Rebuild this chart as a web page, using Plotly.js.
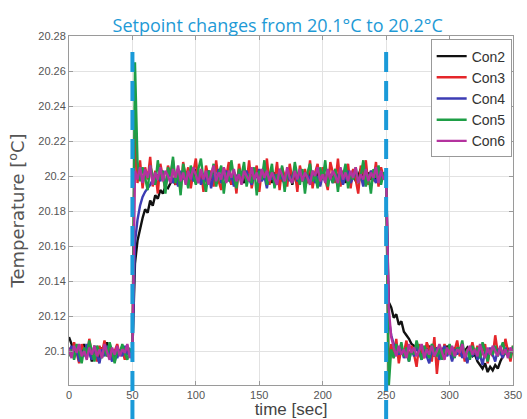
<!DOCTYPE html>
<html>
<head>
<meta charset="utf-8">
<script src="https://cdn.plot.ly/plotly-3.0.1.min.js"></script>
<style>html,body{margin:0;padding:0;background:#fff;}#chart{width:527px;height:419px;}</style>
</head>
<body>
<div id="chart"></div>
<script>
const time = [
0,2,4,6,8,10,12,14,16,18,
20,22,24,26,28,30,32,34,36,38,
40,42,44,46,48,50,52,54,56,58,
60,62,64,66,68,70,72,74,76,78,
80,82,84,86,88,90,92,94,96,98,
100,102,104,106,108,110,112,114,116,118,
120,122,124,126,128,130,132,134,136,138,
140,142,144,146,148,150,152,154,156,158,
160,162,164,166,168,170,172,174,176,178,
180,182,184,186,188,190,192,194,196,198,
200,202,204,206,208,210,212,214,216,218,
220,222,224,226,228,230,232,234,236,238,
240,242,244,246,248,250,252,254,256,258,
260,262,264,266,268,270,272,274,276,278,
280,282,284,286,288,290,292,294,296,298,
300,302,304,306,308,310,312,314,316,318,
320,322,324,326,328,330,332,334,336,338,
340,342,344,346,348,350];

const con2 = [
20.108,20.104,20.097,20.102,20.095,20.099,20.104,20.098,20.101,20.094,
20.103,20.099,20.096,20.102,20.098,20.105,20.097,20.100,20.094,20.101,
20.099,20.103,20.096,20.100,20.098,20.101,20.150,20.163,20.170,20.176,
20.181,20.179,20.186,20.183,20.189,20.187,20.192,20.190,20.194,20.193,
20.196,20.198,20.195,20.201,20.197,20.203,20.199,20.196,20.202,20.198,
20.204,20.197,20.201,20.195,20.200,20.203,20.198,20.202,20.196,20.201,
20.199,20.204,20.197,20.200,20.195,20.202,20.198,20.203,20.199,20.196,
20.201,20.197,20.204,20.199,20.202,20.196,20.200,20.203,20.198,20.201,
20.196,20.202,20.199,20.204,20.197,20.200,20.198,20.203,20.195,20.201,
20.199,20.203,20.197,20.201,20.196,20.204,20.200,20.198,20.202,20.197,
20.203,20.199,20.196,20.201,20.198,20.204,20.197,20.200,20.202,20.196,
20.201,20.198,20.203,20.197,20.200,20.204,20.199,20.196,20.202,20.198,
20.201,20.197,20.203,20.199,20.200,20.200,20.128,20.125,20.119,20.121,
20.115,20.117,20.111,20.109,20.107,20.104,20.103,20.101,20.102,20.099,
20.101,20.098,20.103,20.100,20.097,20.102,20.099,20.101,20.098,20.103,
20.100,20.097,20.102,20.099,20.101,20.098,20.100,20.102,20.099,20.097,
20.098,20.094,20.092,20.090,20.093,20.088,20.091,20.089,20.092,20.090,
20.094,20.097,20.099,20.101,20.098,20.100];

const con3 = [
20.102,20.097,20.105,20.099,20.093,20.104,20.100,20.096,20.107,20.098,
20.101,20.094,20.103,20.099,20.106,20.097,20.102,20.095,20.100,20.104,
20.098,20.101,20.095,20.103,20.099,20.102,20.232,20.196,20.209,20.193,
20.205,20.198,20.211,20.194,20.203,20.190,20.207,20.199,20.192,20.206,
20.201,20.209,20.195,20.203,20.191,20.208,20.199,20.205,20.193,20.202,
20.210,20.196,20.204,20.191,20.206,20.199,20.203,20.194,20.209,20.197,
20.192,20.205,20.200,20.208,20.195,20.202,20.190,20.207,20.198,20.204,
20.196,20.209,20.193,20.201,20.206,20.191,20.204,20.199,20.210,20.195,
20.203,20.197,20.208,20.192,20.205,20.200,20.194,20.207,20.198,20.203,
20.191,20.206,20.199,20.204,20.196,20.209,20.193,20.202,20.207,20.195,
20.205,20.198,20.192,20.208,20.201,20.196,20.210,20.194,20.203,20.199,
20.207,20.193,20.204,20.198,20.190,20.206,20.201,20.209,20.195,20.203,
20.197,20.208,20.194,20.205,20.199,20.203,20.088,20.104,20.096,20.107,
20.093,20.102,20.099,20.106,20.095,20.103,20.098,20.091,20.104,20.100,
20.096,20.105,20.101,20.094,20.108,20.087,20.102,20.097,20.104,20.099,
20.103,20.095,20.100,20.106,20.097,20.102,20.094,20.101,20.099,20.105,
20.098,20.103,20.096,20.100,20.104,20.093,20.101,20.097,20.109,20.099,
20.102,20.096,20.107,20.100,20.094,20.103];

const con4 = [
20.099,20.103,20.096,20.101,20.094,20.100,20.097,20.104,20.099,20.095,
20.102,20.098,20.093,20.101,20.097,20.103,20.099,20.094,20.100,20.096,
20.101,20.097,20.103,20.098,20.100,20.099,20.162,20.175,20.183,20.188,
20.191,20.193,20.195,20.198,20.196,20.201,20.197,20.203,20.195,20.199,
20.202,20.196,20.200,20.194,20.203,20.198,20.201,20.195,20.204,20.197,
20.199,20.202,20.195,20.200,20.197,20.203,20.193,20.201,20.198,20.204,
20.196,20.200,20.203,20.197,20.201,20.194,20.199,20.202,20.196,20.201,
20.203,20.198,20.195,20.201,20.199,20.204,20.197,20.200,20.193,20.202,
20.198,20.201,20.196,20.203,20.199,20.195,20.202,20.197,20.200,20.204,
20.197,20.199,20.202,20.195,20.201,20.198,20.203,20.196,20.200,20.194,
20.201,20.197,20.203,20.199,20.196,20.202,20.198,20.201,20.195,20.200,
20.203,20.196,20.199,20.202,20.197,20.200,20.194,20.201,20.198,20.203,
20.199,20.196,20.202,20.198,20.201,20.200,20.119,20.109,20.104,20.101,
20.098,20.102,20.096,20.100,20.094,20.101,20.097,20.103,20.099,20.095,
20.101,20.097,20.093,20.100,20.098,20.102,20.095,20.099,20.103,20.097,
20.100,20.094,20.101,20.098,20.102,20.096,20.099,20.093,20.100,20.097,
20.101,20.095,20.098,20.092,20.100,20.097,20.102,20.098,20.094,20.101,
20.099,20.096,20.102,20.098,20.101,20.100];

const con5 = [
20.097,20.101,20.095,20.104,20.099,20.093,20.102,20.098,20.106,20.100,
20.094,20.103,20.099,20.096,20.102,20.097,20.105,20.100,20.093,20.101,
20.098,20.104,20.099,20.095,20.101,20.100,20.265,20.208,20.197,20.205,
20.199,20.192,20.206,20.201,20.195,20.209,20.198,20.203,20.190,20.205,
20.200,20.211,20.196,20.203,20.189,20.207,20.199,20.193,20.206,20.201,
20.195,20.204,20.210,20.198,20.191,20.203,20.199,20.207,20.194,20.201,
20.206,20.190,20.202,20.197,20.209,20.199,20.193,20.204,20.200,20.208,
20.194,20.201,20.196,20.205,20.189,20.203,20.198,20.209,20.195,20.200,
20.207,20.193,20.201,20.198,20.206,20.191,20.203,20.199,20.196,20.208,
20.200,20.195,20.204,20.190,20.202,20.207,20.197,20.201,20.193,20.205,
20.198,20.209,20.194,20.201,20.196,20.204,20.191,20.203,20.200,20.207,
20.193,20.202,20.198,20.205,20.196,20.200,20.209,20.194,20.201,20.190,
20.204,20.199,20.206,20.195,20.202,20.200,20.079,20.101,20.096,20.104,
20.099,20.105,20.097,20.102,20.094,20.101,20.098,20.106,20.100,20.095,
20.103,20.099,20.096,20.104,20.100,20.097,20.102,20.095,20.101,20.098,
20.104,20.099,20.096,20.102,20.100,20.106,20.097,20.101,20.095,20.103,
20.099,20.102,20.096,20.105,20.100,20.094,20.101,20.098,20.103,20.097,
20.101,20.105,20.098,20.100,20.096,20.103];

const con6 = [
20.101,20.096,20.103,20.099,20.104,20.097,20.100,20.095,20.102,20.098,
20.103,20.097,20.101,20.096,20.104,20.099,20.095,20.102,20.098,20.103,
20.097,20.101,20.099,20.104,20.096,20.100,20.203,20.198,20.205,20.196,
20.204,20.199,20.206,20.195,20.202,20.198,20.205,20.197,20.203,20.200,
20.196,20.204,20.199,20.206,20.197,20.202,20.195,20.203,20.198,20.205,
20.200,20.196,20.204,20.198,20.203,20.195,20.201,20.206,20.197,20.202,
20.198,20.205,20.196,20.203,20.199,20.204,20.197,20.201,20.195,20.203,
20.200,20.197,20.205,20.198,20.202,20.196,20.204,20.199,20.203,20.197,
20.202,20.198,20.195,20.204,20.200,20.197,20.205,20.199,20.196,20.203,
20.198,20.204,20.197,20.202,20.199,20.195,20.203,20.200,20.205,20.197,
20.201,20.196,20.204,20.198,20.203,20.200,20.196,20.205,20.198,20.202,
20.197,20.203,20.199,20.205,20.196,20.201,20.198,20.204,20.197,20.202,
20.199,20.205,20.196,20.203,20.198,20.200,20.125,20.108,20.102,20.097,
20.103,20.098,20.101,20.096,20.104,20.099,20.102,20.097,20.100,20.104,
20.096,20.101,20.098,20.103,20.097,20.100,20.104,20.099,20.095,20.102,
20.098,20.103,20.097,20.101,20.099,20.104,20.096,20.100,20.103,20.098,
20.101,20.097,20.104,20.099,20.096,20.102,20.098,20.103,20.100,20.097,
20.103,20.098,20.101,20.096,20.102,20.099];

const seriesNames = ["Con2","Con3","Con4","Con5","Con6"];
const seriesColors = ["#111111","#e5262a","#3c3cb4","#1e9e46","#b4329e"];
const seriesValues = [con2, con3, con4, con5, con6];

const xTicks = [0,50,100,150,200,250,300,350];
const xTickText = ["0","50","100","150","200","250","300","350"];
const yTicks = [20.1,20.12,20.14,20.16,20.18,20.2,20.22,20.24,20.26,20.28];
const yTickText = ["20.1","20.12","20.14","20.16","20.18","20.2","20.22","20.24","20.26","20.28"];
const setpointTimes = [50, 250];

const traces = seriesValues.map((vals, i) => ({
  x: time, y: vals, type: "scatter", mode: "lines", name: seriesNames[i],
  line: {color: seriesColors[i], width: 2.4}
}));

const axisFont = {family: "Liberation Sans, Arial, sans-serif", size: 11, color: "#555"};
const layout = {
  width: 527, height: 419,
  margin: {l: 69, r: 14, t: 36, b: 34, pad: 0},
  paper_bgcolor: "#fff", plot_bgcolor: "#fff",
  title: {text: "Setpoint changes from 20.1°C to 20.2°C", x: 0.47, xref: "paper", xanchor: "center",
          y: 1, yref: "paper", yanchor: "bottom", pad: {b: 4},
          font: {family: "Open Sans, Noto Sans, sans-serif", size: 18, color: "#1e9ad6"}},
  showlegend: true,
  legend: {x: 0.997, xanchor: "right", y: 0.99, yanchor: "top", bgcolor: "#fff",
           bordercolor: "#999", borderwidth: 1, tracegroupgap: 0,
           font: {family: "Liberation Sans, Arial, sans-serif", size: 14, color: "#333"}},
  xaxis: {range: [0, 350], tickmode: "array", tickvals: xTicks, ticktext: xTickText,
          showgrid: true, gridcolor: "#e2e2e2", gridwidth: 1, zeroline: false,
          showline: true, linecolor: "#9a9a9a", linewidth: 1, mirror: "ticks",
          ticks: "inside", ticklen: 4, tickcolor: "#9a9a9a", tickfont: axisFont,
          title: {text: "time [sec]", standoff: 4,
                  font: {family: "Liberation Sans, Arial, sans-serif", size: 17, color: "#444"}}},
  yaxis: {range: [20.0806, 20.28], tickmode: "array", tickvals: yTicks, ticktext: yTickText,
          showgrid: true, gridcolor: "#e2e2e2", gridwidth: 1, zeroline: false,
          showline: true, linecolor: "#9a9a9a", linewidth: 1, mirror: "ticks",
          ticks: "inside", ticklen: 4, tickcolor: "#9a9a9a", tickfont: axisFont,
          title: {text: "Temperature [<sup>o</sup>C]", standoff: 8,
                  font: {family: "DejaVu Sans, sans-serif", size: 18, color: "#555"}}},
  shapes: setpointTimes.map(t => ({
    type: "line", xref: "x", yref: "paper", x0: t, x1: t, y0: -0.1, y1: 0.98,
    layer: "above", line: {color: "#1a9ad8", width: 4, dash: "20px,9px"}
  }))
};

Plotly.newPlot("chart", traces, layout, {displayModeBar: false, staticPlot: true});
</script>
</body>
</html>
